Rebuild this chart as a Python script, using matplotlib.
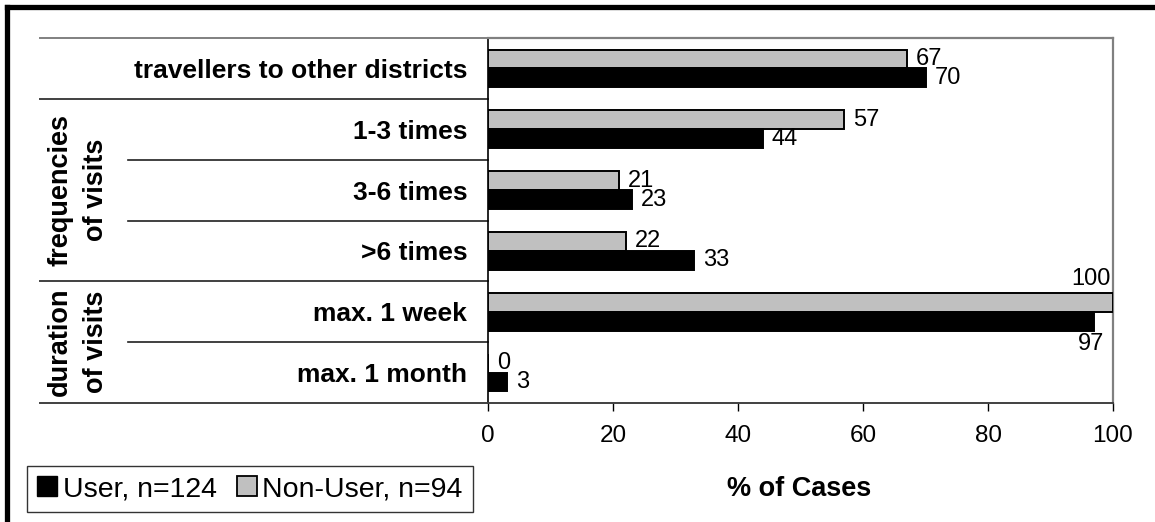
import matplotlib
matplotlib.use("Agg")
import matplotlib.pyplot as plt
from matplotlib.patches import Patch
from matplotlib.lines import Line2D
import matplotlib.transforms as mtransforms

plt.rcParams['font.family'] = ['Liberation Sans', 'DejaVu Sans']

categories = ["travellers to other districts", "1-3 times", "3-6 times",
              ">6 times", "max. 1 week", "max. 1 month"]
user = [70, 44, 23, 33, 97, 3]
non_user = [67, 57, 21, 22, 100, 0]
groups = [("frequencies", "of visits", 1, 3), ("duration", "of visits", 4, 5)]
xticks = [0, 20, 40, 60, 80, 100]
legend_labels = ["User, n=124", "Non-User, n=94"]
xlabel = "% of Cases"

W, H = 1155, 522
fig = plt.figure(figsize=(W / 100, H / 100), dpi=100)
ax = fig.add_axes([488 / W, 1 - 403 / H, (1113 - 488) / W, (403 - 38) / H])

n = len(categories)
pos = list(range(n))
bh = 0.31
gray = "#c0c0c0"
ax.barh([p - bh / 2 for p in pos], non_user, height=bh, color=gray,
        edgecolor="black", linewidth=1.4, zorder=3)
ax.barh([p + bh / 2 for p in pos], user, height=bh, color="black",
        edgecolor="black", linewidth=1.4, zorder=3)

ax.set_xlim(0, 100)
ax.set_ylim(n - 0.5, -0.5)
ax.set_xticks(xticks)
ax.set_xticklabels([str(t) for t in xticks], fontsize=17.5)
ax.tick_params(axis="x", length=6, width=1, pad=10, color="black")
ax.set_yticks(pos)
ax.set_yticklabels(categories, fontsize=19, fontweight="bold")
ax.tick_params(axis="y", length=0, pad=15)

for s in ["top", "right"]:
    ax.spines[s].set_color("#808080")
    ax.spines[s].set_linewidth(1.6)
ax.spines["left"].set_color("black")
ax.spines["left"].set_linewidth(1.2)
ax.spines["bottom"].set_color("#404040")
ax.spines["bottom"].set_linewidth(1.4)

# data labels
lfs = 17
off = mtransforms.offset_copy(ax.transData, fig=fig, x=9, y=0, units="dots")
for p, v in zip(pos, non_user):
    if v >= 100:
        t = mtransforms.offset_copy(ax.transData, fig=fig, x=-22, y=3, units="dots")
        ax.text(v, p - bh, str(v), transform=t, ha="center", va="bottom",
                fontsize=lfs, zorder=5, clip_on=False)
    else:
        ax.text(v, p - bh / 2, str(v), transform=off, ha="left", va="center",
                fontsize=lfs, zorder=5)
for p, v in zip(pos, user):
    if v >= 95:
        t = mtransforms.offset_copy(ax.transData, fig=fig, x=-3, y=-2, units="dots")
        ax.text(v, p + bh, str(v), transform=t, ha="center", va="top",
                fontsize=lfs, zorder=5)
    else:
        ax.text(v, p + bh / 2, str(v), transform=off, ha="left", va="center",
                fontsize=lfs, zorder=5)

# table lines on the left
blend = mtransforms.blended_transform_factory(ax.transAxes, ax.transData)
x_full = (40 - 488) / 625
x_inner = (128 - 488) / 625
ax.plot([x_full, 0], [-0.5, -0.5], transform=blend, color="#808080", lw=1.4, clip_on=False)
for b in [0.5, 3.5, 5.5]:
    ax.plot([x_full, 0], [b, b], transform=blend, color="#404040", lw=1.4, clip_on=False)
for b in [1.5, 2.5, 4.5]:
    ax.plot([x_inner, 0], [b, b], transform=blend, color="#202020", lw=1.2, clip_on=False)

# group labels
for l1, l2, a, b in groups:
    yc = (a + b) / 2
    ax.text((60 - 488) / 625, yc, l1, transform=blend, rotation=90, ha="center",
            va="center", fontsize=19.5, fontweight="bold")
    ax.text((96 - 488) / 625, yc, l2, transform=blend, rotation=90, ha="center",
            va="center", fontsize=19.5, fontweight="bold")

# x label
fig.text(799 / W, 1 - 489 / H, xlabel, ha="center", va="center",
         fontsize=19.5, fontweight="bold")

# legend
handles = [Patch(facecolor="black", edgecolor="black"),
           Patch(facecolor=gray, edgecolor="black", linewidth=1.3)]
leg = fig.legend(handles, legend_labels, loc="center", ncol=2,
                 bbox_to_anchor=(250 / W, 1 - 489 / H), fontsize=20.5,
                 frameon=True, fancybox=False, edgecolor="black",
                 handlelength=0.7, handleheight=0.7, handletextpad=0.2,
                 columnspacing=0.7, borderpad=0.35, borderaxespad=0)
leg.get_frame().set_linewidth(1.0)

# outer thick frame (top and left edges)
fig.add_artist(Line2D([7 / W, 1], [1 - 7 / H, 1 - 7 / H], color="black", lw=3.8,
                      transform=fig.transFigure))
fig.add_artist(Line2D([7 / W, 7 / W], [0, 1 - 7 / H], color="black", lw=3.8,
                      transform=fig.transFigure, solid_capstyle="projecting"))

fig.savefig("out.png", dpi=100)
